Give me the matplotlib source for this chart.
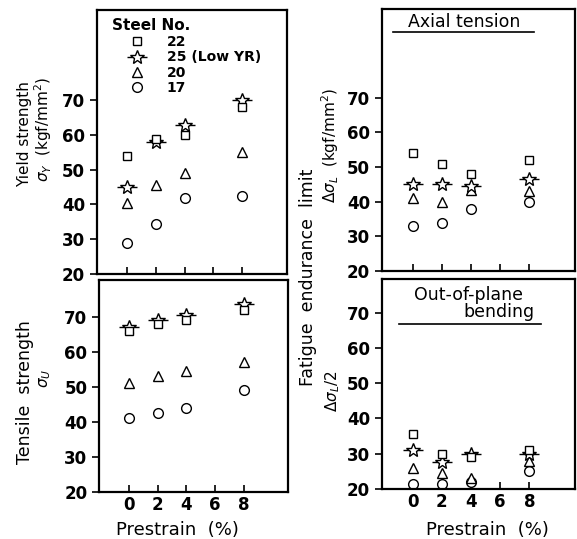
import matplotlib
matplotlib.use('Agg')
import matplotlib.pyplot as plt

# Prestrain levels (%)
prestrain = [0, 2, 4, 8]

# Yield strength (kgf/mm2)
ys_22 = [54, 59, 60, 68]
ys_25 = [45, 58, 63, 70]
ys_20 = [40.5, 45.5, 49, 55]
ys_17 = [29, 34.5, 42, 42.5]

# Tensile strength
ts_22 = [66, 68, 69, 72]
ts_25 = [67, 69, 70.5, 73.5]
ts_20 = [51, 53, 54.5, 57]
ts_17 = [41, 42.5, 44, 49]

# Fatigue endurance limit, axial tension
ax_22 = [54, 51, 48, 52]
ax_25 = [45, 45, 44.5, 46.5]
ax_20 = [41, 40, 43.5, 43]
ax_17 = [33, 34, 38, 40]

# Fatigue endurance limit, out-of-plane bending
ob_22 = [35.5, 30, 29, 31]
ob_25 = [31, 27.5, 30, 30]
ob_20 = [26, 24.5, 23, 28]
ob_17 = [21.5, 21.5, 22, 25]

steel_labels = ['22', '25 (Low YR)', '20', '17']
xticks = [0, 2, 4, 6, 8]
yticks = [20, 30, 40, 50, 60, 70]

plt.rcParams['font.family'] = 'DejaVu Sans'

fig = plt.figure(figsize=(5.77, 5.39), dpi=100)
ax_tl = fig.add_axes([0.168, 0.492, 0.329, 0.489])
ax_bl = fig.add_axes([0.172, 0.087, 0.327, 0.394])
ax_tr = fig.add_axes([0.662, 0.497, 0.334, 0.486])
ax_br = fig.add_axes([0.662, 0.093, 0.334, 0.389])

mk = dict(linestyle='none', markerfacecolor='white', markeredgecolor='black',
          markeredgewidth=1.0, color='black')


def draw_points(ax, s22, s25, s20, s17):
    h17, = ax.plot(prestrain, s17, marker='o', markersize=7, **mk)
    h20, = ax.plot(prestrain, s20, marker='^', markersize=6.5, **mk)
    hbar, = ax.plot(prestrain, s25, marker='_', markersize=15, **mk)
    hst, = ax.plot(prestrain, s25, marker='*', markersize=10.5, **mk)
    h22, = ax.plot(prestrain, s22, marker='s', markersize=5.5, **mk)
    return [h22, (hbar, hst), h20, h17]


def style(ax, top, xlabels):
    ax.set_xlim(-2.1, 11.1)
    ax.set_ylim(20, top)
    ax.set_xticks(xticks)
    ax.set_yticks(yticks)
    ax.tick_params(axis='x', direction='in', length=5, width=1.2,
                   labelsize=12, pad=3)
    ax.tick_params(axis='y', direction='out', length=5, width=1.2,
                   labelsize=12)
    for lab in ax.get_xticklabels() + ax.get_yticklabels():
        lab.set_fontweight('bold')
    if not xlabels:
        ax.set_xticklabels([])
    for sp in ax.spines.values():
        sp.set_linewidth(1.6)


handles = draw_points(ax_tl, ys_22, ys_25, ys_20, ys_17)
draw_points(ax_bl, ts_22, ts_25, ts_20, ts_17)
draw_points(ax_tr, ax_22, ax_25, ax_20, ax_17)
draw_points(ax_br, ob_22, ob_25, ob_20, ob_17)

style(ax_tl, 96, False)
style(ax_bl, 80.5, True)
style(ax_tr, 95.5, False)
style(ax_br, 79.5, True)

# legend of steels
ax_tl.text(0.079, 0.943, 'Steel No.', transform=ax_tl.transAxes,
           ha='left', va='center', fontsize=11, fontweight='bold')
leg = ax_tl.legend(handles, steel_labels, loc='upper left',
                   bbox_to_anchor=(0.156, 0.905), borderaxespad=0,
                   frameon=False, fontsize=10, labelspacing=0.08,
                   handletextpad=1.4, handlelength=1.5, borderpad=0)
for t in leg.get_texts():
    t.set_fontweight('bold')

# panel titles
ax_tr.text(0.428, 0.95, 'Axial tension', transform=ax_tr.transAxes,
           ha='center', va='center', fontsize=12.5)
ax_tr.axhline(89, xmin=0.057, xmax=0.79, color='black', linewidth=1.2)
ax_br.text(0.448, 0.924, 'Out-of-plane', transform=ax_br.transAxes,
           ha='center', va='center', fontsize=12.5)
ax_br.text(0.789, 0.843, 'bending', transform=ax_br.transAxes,
           ha='right', va='center', fontsize=12.5)
ax_br.axhline(66.9, xmin=0.088, xmax=0.825, color='black', linewidth=1.2)

# axis labels
fs = 11
fig.text(0.042, 0.751, 'Yield strength', rotation=90, ha='center', va='center', fontsize=fs)
fig.text(0.075, 0.759, r'$\sigma_Y$  (kgf/mm$^2$)', rotation=90, ha='center', va='center', fontsize=fs)
fig.text(0.043, 0.272, 'Tensile  strength', rotation=90, ha='center', va='center', fontsize=12.5)
fig.text(0.078, 0.298, r'$\sigma_U$', rotation=90, ha='center', va='center', fontsize=fs)
fig.text(0.534, 0.485, 'Fatigue  endurance  limit', rotation=90, ha='center', va='center', fontsize=12.5)
fig.text(0.572, 0.729, r'$\Delta\sigma_L$  (kgf/mm$^2$)', rotation=90, ha='center', va='center', fontsize=fs)
fig.text(0.577, 0.273, r'$\Delta\sigma_L/2$', rotation=90, ha='center', va='center', fontsize=fs)
fig.text(0.307, 0.017, 'Prestrain  (%)', ha='center', va='center', fontsize=13)
fig.text(0.844, 0.017, 'Prestrain  (%)', ha='center', va='center', fontsize=13)

fig.savefig('out.png', dpi=100)
